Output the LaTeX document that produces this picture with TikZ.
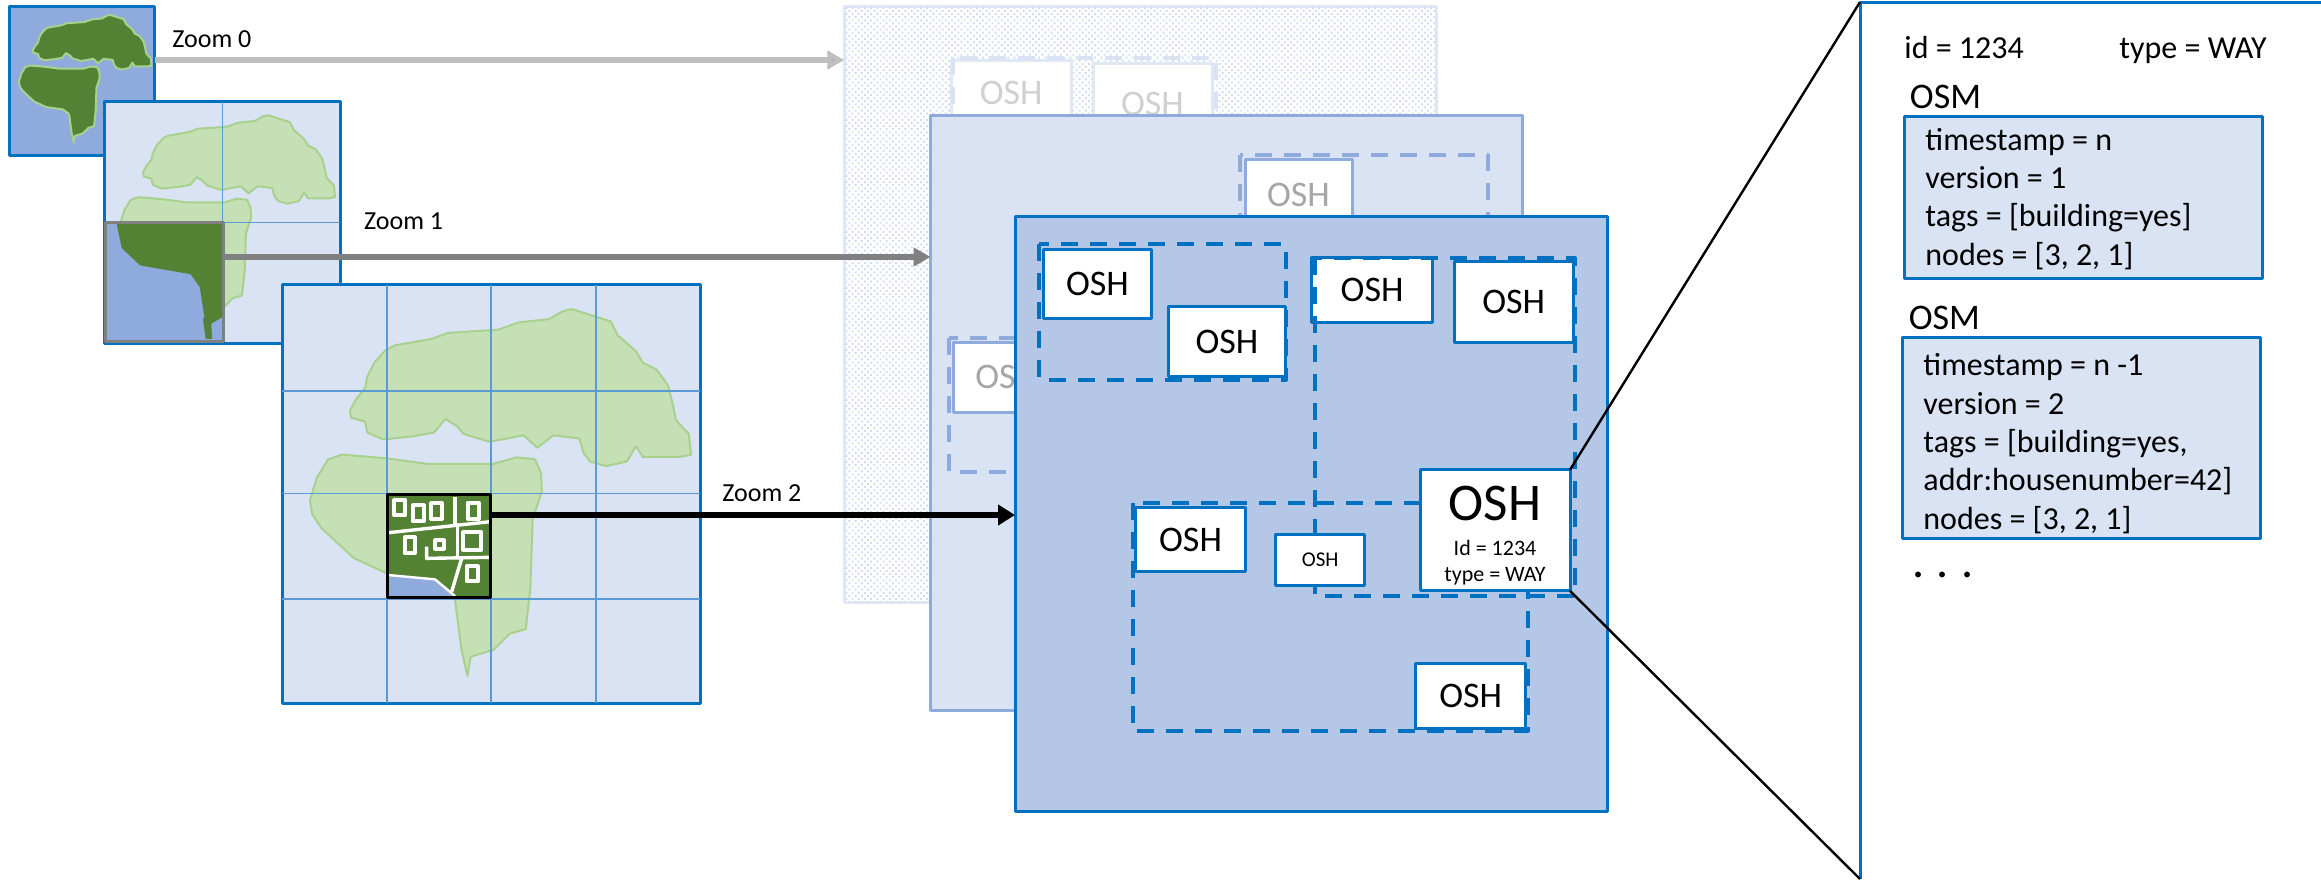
\documentclass[tikz,border=0pt]{standalone}
\usepackage{fontspec}
\setmainfont{Carlito}
\usetikzlibrary{arrows.meta,calc,patterns.meta}
\definecolor{cblue}{HTML}{0070C0}
\definecolor{lblue}{HTML}{DAE3F3}
\definecolor{mblue}{HTML}{B4C7E7}
\definecolor{pblue}{HTML}{8FAADC}
\definecolor{gridb}{HTML}{5B9BD5}
\definecolor{dgreen}{HTML}{548235}
\definecolor{lgreen}{HTML}{C5E0B4}
\definecolor{egreen}{HTML}{A9D18E}
\definecolor{zzero}{HTML}{D3DDF2}
\definecolor{zzeroedge}{HTML}{E0E7F5}
\definecolor{oshone}{HTML}{A6A6A6}
\definecolor{oshzero}{HTML}{D0D0D0}
\newcommand{\pxbox}[7]{% name x1 y1 x2 y2 style text
  \node[#6,minimum width=(#4-#2)*0.5pt,minimum height=(#5-#3)*0.5pt] (#1) at ({(#2+#4)/2},{(#3+#5)/2}) {#7};}
\newcommand{\pxdash}[6]{% x1 y1 x2 y2 style name
  \coordinate (#6a) at (#1,#2);\coordinate (#6b) at (#3,#4);
  \draw[#5] (#6a) rectangle (#6b);}
\newcommand{\islandpaths}{%
 (762,895)--(775,870)--(795,845)--(800,820)--(815,790)--(840,762)--(860,752)--(940,738)--(975,725)--(1085,718)--(1130,702)--(1195,695)--(1225,678)--(1245,673)--(1330,700)--(1345,730)--(1385,765)--(1400,790)--(1430,805)--(1455,840)--(1465,880)--(1472,915)--(1500,945)--(1505,990)--(1480,995)--(1400,995)--(1385,972)--(1365,1005)--(1320,1015)--(1285,1005)--(1270,985)--(1262,955)--(1205,948)--(1170,975)--(1140,948)--(1065,962)--(1010,945)--(995,928)--(970,912)--(945,942)--(900,950)--(835,957)--(800,942)--(795,918)--(765,910)--cycle
 (675,1090)--(690,1040)--(715,1000)--(745,990)--(840,998)--(930,1010)--(1075,1010)--(1125,996)--(1165,1000)--(1178,1030)--(1180,1070)--(1160,1130)--(1155,1280)--(1145,1370)--(1110,1380)--(1075,1415)--(1025,1430)--(1018,1472)--(1005,1415)--(990,1300)--(985,1290)--(950,1265)--(845,1250)--(770,1215)--(700,1150)--(680,1120)--cycle}
\tikzset{
 tilebox/.style={draw=cblue,line width=1.5pt,inner sep=0pt,outer sep=0pt},
 layerbox/.style={line width=1.5pt,inner sep=0pt,outer sep=0pt},
 osh/.style={fill=white,draw=cblue,line width=1.5pt,inner sep=0pt,outer sep=0pt,font=\fontsize{18}{20}\selectfont},
 oshmid/.style={osh,draw=pblue,text=oshone},
 oshfar/.style={osh,draw=zzeroedge,text=oshzero},
 dashbox/.style={draw=cblue,line width=2pt,dash pattern=on 8.5pt off 6pt},
 dashmid/.style={dashbox,draw=pblue},
 dashfar/.style={dashbox,draw=lblue},
 gridline/.style={draw=gridb,line width=0.7pt},
 arrowline/.style={line width=2.75pt},
 zoomlabel/.style={anchor=west,inner sep=0pt,font=\fontsize{13}{15}\selectfont},
 paneltext/.style={anchor=base west,inner sep=0pt,font=\fontsize{16}{19}\selectfont},
 osmlabel/.style={anchor=west,inner sep=0pt,font=\fontsize{18}{20}\selectfont},
 osmbox/.style={fill=lblue,draw=cblue,line width=1.5pt,inner sep=0pt,outer sep=0pt},
 osmtext/.style={anchor=west,inner sep=0pt,align=left,font=\fontsize{16}{19.15}\selectfont},
 road/.style={draw=white,line width=1.7pt},
 bldg/.style={draw=white,line width=2pt},
}
\begin{document}
\begin{tikzpicture}[x=0.5pt,y=-0.5pt,line join=round]
\useasboundingbox (0,0) rectangle (2321,879);
% layer 0
\pxbox{lzero}{844.4}{6.7}{1436.7}{602.6}{layerbox,fill=white,draw=zzeroedge}{}
\fill[pattern={Dots[distance=2.2pt,radius=0.7pt,angle=45]},pattern color=zzero] (lzero.north west) rectangle (lzero.south east);
\pxbox{ozeroa}{951.5}{60}{1071}{125}{oshfar}{OSH}
\pxbox{ozerob}{1093}{63.3}{1212}{144}{oshfar}{OSH}
\pxdash{953}{58}{1216}{300}{dashfar}{dzero}
% layer 1
\pxbox{lone}{930.6}{115}{1522}{710}{layerbox,fill=lblue,draw=pblue}{}
\pxdash{1240}{154.7}{1487.5}{300}{dashmid}{done}
\pxbox{oonea}{1245}{159.2}{1352}{231}{oshmid}{OSH}
\pxdash{949.4}{337.5}{1196}{472}{dashmid}{dtwo}
\pxbox{ooneb}{953.5}{342}{1060}{412}{oshmid}{OSH}
% layer 2
\pxbox{ltwo}{1015}{216.4}{1607}{811}{layerbox,fill=mblue,draw=cblue}{}
\pxdash{1133}{502.9}{1528}{730.5}{dashbox}{dfive}
\pxbox{oc}{1311.7}{257.9}{1432.4}{322.4}{osh}{OSH}
\pxdash{1315}{257.9}{1575}{596}{dashbox}{dfour}
\pxbox{oa}{1043.9}{249}{1151}{318.4}{osh}{OSH}
\pxbox{ob}{1168.9}{306.7}{1285}{376.2}{osh}{OSH}
\pxdash{1039}{244.4}{1286}{379.5}{dashbox}{dthree}
\pxbox{od}{1454}{261.8}{1573.5}{342.5}{osh}{OSH}
\pxbox{of}{1135.7}{507.3}{1245.4}{571.8}{osh}{OSH}
\pxbox{og}{1275.5}{534.3}{1364.8}{585.8}{osh,font=\fontsize{10.5}{12}\selectfont}{OSH}
\pxbox{oh}{1415.8}{663.8}{1525.5}{728.2}{osh}{OSH}
\pxbox{oe}{1420}{469.8}{1570}{590.9}{osh,align=center,font=\fontsize{11}{13}\selectfont}{{\rule{0pt}{22pt}\fontsize{26.5}{13}\selectfont OSH}\\[4.5pt]Id = 1234\\type = WAY}
% tile 0
\pxbox{tzero}{9.2}{6.4}{154.8}{155.7}{tilebox,fill=pblue}{}
\begin{scope}[shift={(9.2,6.4)},x=0.0799pt,y=-0.0799pt,shift={(-614,-620)}]
\fill[dgreen,draw=egreen,line width=1pt] \islandpaths;
\end{scope}
% tile 1
\pxbox{tone}{104.7}{101.5}{340}{343}{tilebox,fill=lblue}{}
\begin{scope}[shift={(104.7,101.5)},x=0.1293pt,y=-0.1293pt,shift={(-614,-620)}]
\fill[lgreen,draw=egreen,line width=1pt] \islandpaths;
\end{scope}
\draw[gridline] (tone.north) -- (tone.south);
\draw[gridline] (tone.west) -- (tone.east);
\pxbox{tonezoom}{105.6}{222.7}{223}{341}{draw=gray!100,line width=1.5pt,fill=pblue,inner sep=0pt,outer sep=0pt}{}
\begin{scope}[x=0.2296pt,y=-0.2296pt]
\fill[dgreen] (254,487)--(265,540)--(305,578)--(415,597)--(435,625)--(445,690)--(442,695)--(448,738)--(462,738)--(460,705)--(485,690)--(485,487)--cycle;
\end{scope}
\draw[draw=gray,line width=1.5pt] (tonezoom.north west) rectangle (tonezoom.south east);
% tile 2
\pxbox{ttwo}{282}{284.7}{700}{703}{tilebox,fill=lblue}{}
\begin{scope}[x=0.2296pt,y=-0.2296pt]
\fill[lgreen,draw=egreen,line width=1pt] \islandpaths;
\end{scope}
\foreach \gx in {387,491,596}{\draw[gridline] (\gx,285) -- (\gx,703);}
\foreach \gy in {391,493.6,599}{\draw[gridline] (282,\gy) -- (700,\gy);}
% detail of tile 2
\pxbox{tdetail}{387.3}{494.3}{490.7}{597}{fill=dgreen,inner sep=0pt,outer sep=0pt}{}
\begin{scope}[x=0.16667pt,y=-0.16667pt,shift={(1080,1410)}]
\fill[pblue] (85,315)--(225,328)--(285,378)--(85,378)--cycle;
\draw[road,line width=1.2pt] (85,315)--(225,328)--(285,378);
\draw[road] (285,80)--(285,170);
\draw[road] (85,188)--(390,155);
\draw[road] (292,160)--(292,262);
\draw[road] (200,230)--(200,265)--(390,262);
\draw[road] (305,265)--(275,365);
\draw[bldg] (103,90) rectangle (136,136);
\draw[bldg] (158,106) rectangle (191,154);
\draw[bldg] (213,100) rectangle (246,146);
\draw[bldg] (323,98) rectangle (356,146);
\draw[bldg] (134,202) rectangle (164,250);
\draw[bldg] (226,211) rectangle (252,236);
\draw[bldg] (309,186) rectangle (364,240);
\draw[bldg] (320,289) rectangle (354,334);
\end{scope}
\draw[black,line width=1.5pt] (tdetail.north west) rectangle (tdetail.south east);
% arrows
\coordinate (azero) at (500,60);
\coordinate (aone) at (500,257);
\coordinate (atwo) at (600,515);
\draw[arrowline,draw=black!25,-{Triangle[length=8.5pt,width=9pt,fill=black!30]}] (azero -| tzero.east) -- (azero -| lzero.west);
\draw[arrowline,draw=gray,-{Triangle[length=8.5pt,width=9pt]}] (aone -| tonezoom.east) -- (aone -| lone.west);
\draw[arrowline,draw=black,line width=3.2pt,-{Triangle[length=8.5pt,width=10pt]}] (atwo -| tdetail.east) -- (atwo -| ltwo.west);
\node[zoomlabel] (lbzero) at (172,39) {Zoom 0};
\node[zoomlabel] (lbone) at (363.7,221) {Zoom 1};
\node[zoomlabel] (lbtwo) at (722,493) {Zoom 2};
% panel
\coordinate (ptl) at (1860,2);
\coordinate (ptr) at (2321,2);
\coordinate (pbl) at (1860,879);
\draw[cblue,line width=1.5pt] (ptr) -- (ptl) -- (pbl);
\draw[black,line width=1.2pt] (oe.north east) -- (ptl);
\draw[black,line width=1.2pt] (oe.south east) -- (pbl);
\node[paneltext] (pid) at (1904,58) {id = 1234};
\node[paneltext] (ptype) at (2119,58) {type = WAY};
\node[osmlabel] (osmone) at (1909.5,97) {OSM};
\pxbox{boxone}{1904.7}{116.6}{2262.4}{278}{osmbox}{}
\node[osmtext] (txtone) at (1925,198.7) {timestamp = n\\version = 1\\tags = [building=yes]\\nodes = [3, 2, 1]};
\node[osmlabel] (osmtwo) at (1908.4,318.4) {OSM};
\pxbox{boxtwo}{1902.7}{337}{2260.3}{538.7}{osmbox}{}
\node[osmtext] (txttwo) at (1923,443.6) {timestamp = n -1\\version = 2\\tags = [building=yes,\\addr:housenumber=42]\\nodes = [3, 2, 1]};
\node[inner sep=0pt,anchor=center,font=\fontsize{24}{24}\selectfont] (dots) at (1943,575) {.\hspace{6pt}.\hspace{6pt}.};
\end{tikzpicture}
\end{document}
